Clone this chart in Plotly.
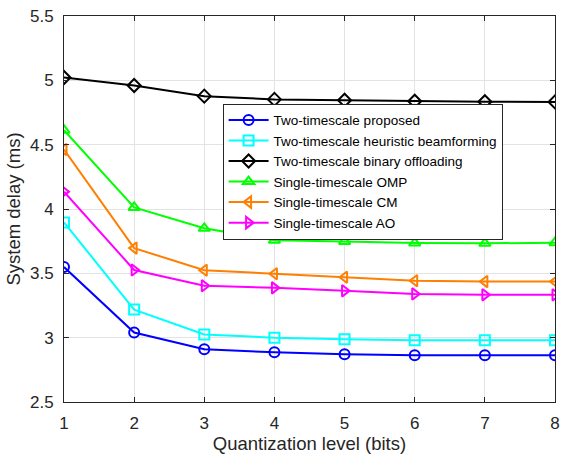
import plotly.graph_objects as go

bits = [1, 2, 3, 4, 5, 6, 7, 8]
proposed = [3.549, 3.040, 2.910, 2.886, 2.872, 2.863, 2.863, 2.863]
heuristic_bf = [3.896, 3.218, 3.025, 3.000, 2.988, 2.979, 2.979, 2.979]
binary_off = [5.022, 4.960, 4.877, 4.852, 4.845, 4.838, 4.834, 4.832]
single_omp = [4.612, 4.012, 3.850, 3.757, 3.748, 3.735, 3.733, 3.738]
single_cm = [4.462, 3.696, 3.524, 3.497, 3.470, 3.442, 3.436, 3.436]
single_ao = [4.135, 3.526, 3.403, 3.387, 3.364, 3.340, 3.333, 3.333]

series = [
    ("Two-timescale proposed", proposed, "#0000FF", "circle-open"),
    ("Two-timescale heuristic beamforming", heuristic_bf, "#00FFFF", "square-open"),
    ("Two-timescale binary offloading", binary_off, "#000000", "diamond-open"),
    ("Single-timescale OMP", single_omp, "#00FF00", "triangle-up-open"),
    ("Single-timescale CM", single_cm, "#FF7F00", "triangle-left-open"),
    ("Single-timescale AO", single_ao, "#FF00FF", "triangle-right-open"),
]

fig = go.Figure()
for name, ys, col, sym in series:
    fig.add_trace(go.Scatter(
        x=bits, y=ys, name=name, mode="lines+markers",
        line=dict(color=col, width=2),
        marker=dict(symbol=sym, size=10, color=col, line=dict(width=2, color=col)),
    ))

FONT = "Liberation Sans, Arial"
axis_common = dict(
    showline=True, linecolor="#262626", linewidth=1, mirror="ticks",
    ticks="inside", ticklen=5, tickcolor="#262626",
    showgrid=True, gridcolor="#E3E3E3", gridwidth=1, zeroline=False,
    tickfont=dict(family=FONT, size=17, color="#262626"),
)

fig.update_layout(
    width=567, height=457,
    margin=dict(l=64, r=7, t=13, b=55),
    paper_bgcolor="white", plot_bgcolor="white",
    font=dict(family=FONT, color="#262626"),
    xaxis=dict(range=[1, 8], dtick=1, ticklabelstandoff=6,
               title=dict(text="Quantization level (bits)", font=dict(size=18.5), standoff=4),
               **axis_common),
    yaxis=dict(range=[2.5, 5.5], dtick=0.5, ticklabelstandoff=6,
               title=dict(text="System delay (ms)", font=dict(size=18.5), standoff=4),
               **axis_common),
    legend=dict(
        x=0.323, y=0.773, xanchor="left", yanchor="top",
        bgcolor="white", bordercolor="#262626", borderwidth=1,
        font=dict(family=FONT, size=13.5, color="#000000"),
        tracegroupgap=0, itemwidth=40,
    ),
    showlegend=True,
)

fig.write_html("out.html", config={"displayModeBar": False},
               post_script="document.body.style.margin='0';")
